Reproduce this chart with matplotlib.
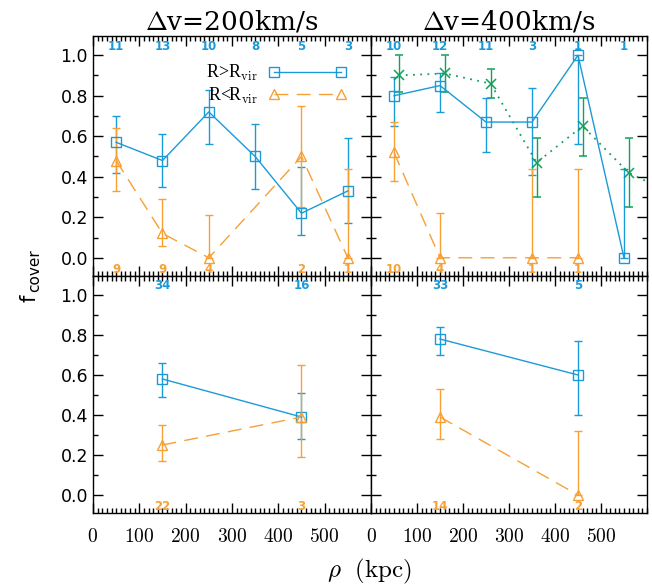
import numpy as np
import matplotlib
matplotlib.use('Agg')
import matplotlib.pyplot as plt
from matplotlib.ticker import MultipleLocator, FormatStrFormatter
from matplotlib.lines import Line2D

plt.rcParams['mathtext.fontset'] = 'cm'
plt.rcParams['axes.formatter.use_mathtext'] = True

# colours
BLUE = '#1b9ad8'
ORANGE = '#f7a035'
GREEN = '#12a05a'

# ---- data ----
x6 = [50, 150, 250, 350, 450, 550]
x2 = [150, 450]

# dv = 200 km/s, top
tl_blue_y = [0.57, 0.48, 0.72, 0.50, 0.22, 0.33]
tl_blue_lo = [0.42, 0.35, 0.56, 0.34, 0.11, 0.17]
tl_blue_hi = [0.70, 0.61, 0.83, 0.66, 0.45, 0.59]
tl_blue_n = [11, 13, 10, 8, 5, 3]
tl_or_x = [50, 150, 250, 450, 550]
tl_or_y = [0.48, 0.12, 0.0, 0.50, 0.0]
tl_or_lo = [0.33, 0.06, 0.0, 0.25, 0.0]
tl_or_hi = [0.64, 0.29, 0.21, 0.75, 0.44]
tl_or_n = [9, 9, 4, 2, 1]

# dv = 400 km/s, top
tr_blue_y = [0.80, 0.85, 0.67, 0.67, 1.0, 0.0]
tr_blue_lo = [0.65, 0.72, 0.52, 0.41, 0.56, 0.0]
tr_blue_hi = [0.89, 0.91, 0.79, 0.84, 1.0, 0.44]
tr_blue_n = [10, 12, 11, 3, 1, 1]
tr_gr_x = [60, 160, 260, 360, 460, 560, 660]
tr_gr_y = [0.90, 0.91, 0.86, 0.47, 0.65, 0.42, 0.31]
tr_gr_lo = [0.82, 0.82, 0.79, 0.30, 0.50, 0.25, 0.20]
tr_gr_hi = [1.0, 1.0, 0.93, 0.59, 0.79, 0.59, 0.45]
tr_or_x = [50, 150, 350, 450]
tr_or_y = [0.52, 0.0, 0.0, 0.0]
tr_or_lo = [0.38, 0.0, 0.0, 0.0]
tr_or_hi = [0.67, 0.22, 0.44, 0.44]
tr_or_n = [10, 4, 1, 1]

# dv = 200 km/s, bottom
bl_blue_y = [0.58, 0.39]
bl_blue_lo = [0.49, 0.28]
bl_blue_hi = [0.66, 0.51]
bl_blue_n = [34, 16]
bl_or_y = [0.25, 0.39]
bl_or_lo = [0.17, 0.19]
bl_or_hi = [0.35, 0.65]
bl_or_n = [22, 3]

# dv = 400 km/s, bottom
br_blue_y = [0.78, 0.60]
br_blue_lo = [0.70, 0.40]
br_blue_hi = [0.84, 0.77]
br_blue_n = [33, 5]
br_or_y = [0.39, 0.0]
br_or_lo = [0.28, 0.0]
br_or_hi = [0.53, 0.32]
br_or_n = [14, 2]

titles = [r'$\Delta$v=200km/s', r'$\Delta$v=400km/s']
DASH = (0, (10, 6))


def yerr(y, lo, hi):
    y = np.array(y); lo = np.array(lo); hi = np.array(hi)
    return [y - lo, hi - y]


def blue(ax, x, y, lo, hi):
    ax.errorbar(x, y, yerr=yerr(y, lo, hi), fmt='s-', color=BLUE, mfc='none',
                ms=6.5, lw=1.0, elinewidth=1.0, capsize=3)


def orange(ax, x, y, lo, hi):
    ax.errorbar(x, y, yerr=yerr(y, lo, hi), fmt='^', ls=DASH, color=ORANGE,
                mfc='none', ms=7.5, lw=1.0, elinewidth=1.0, capsize=3)


def counts(ax, x, n, yv, color):
    for xi, ni in zip(x, n):
        ax.text(xi, yv, str(ni), color=color, fontsize=8.5, fontweight='bold',
                ha='center', va='center', family='DejaVu Sans')


fig = plt.figure(figsize=(6.52, 5.84), dpi=100)
L, M, R = 0.1426, 0.569, 0.9923
B, C, T = 0.1216, 0.5274, 0.9384
axs = [[fig.add_axes([L, C, M - L, T - C]), fig.add_axes([M, C, R - M, T - C])],
       [fig.add_axes([L, B, M - L, C - B]), fig.add_axes([M, B, R - M, C - B])]]

for i in range(2):
    for j in range(2):
        ax = axs[i][j]
        ax.set_xlim(0, 600)
        ax.set_ylim(-0.09, 1.095)
        ax.xaxis.set_major_locator(plt.FixedLocator([0, 100, 200, 300, 400, 500]))
        ax.xaxis.set_minor_locator(MultipleLocator(10))
        ax.yaxis.set_major_locator(MultipleLocator(0.2))
        ax.yaxis.set_minor_locator(MultipleLocator(0.1))
        ax.yaxis.set_major_formatter(FormatStrFormatter('%.1f'))
        ax.tick_params(which='both', direction='in', top=True, right=True, width=1)
        ax.tick_params(which='major', length=7)
        ax.tick_params(which='minor', length=3.5)
        ax.tick_params(axis='x', pad=11)
        for s in ax.spines.values():
            s.set_linewidth(1)
        if i == 0:
            ax.set_xticklabels([])
            ax.set_title(titles[j], fontsize=19, family='DejaVu Serif', pad=5)
        else:
            for lab in ax.get_xticklabels():
                lab.set_family('cmr10')
                lab.set_fontsize(14)
        if j == 1:
            ax.set_yticklabels([])
        else:
            for lab in ax.get_yticklabels():
                lab.set_fontsize(12.5)

# top left
ax = axs[0][0]
blue(ax, x6, tl_blue_y, tl_blue_lo, tl_blue_hi)
orange(ax, tl_or_x, tl_or_y, tl_or_lo, tl_or_hi)
counts(ax, x6, tl_blue_n, 1.045, BLUE)
counts(ax, tl_or_x, tl_or_n, -0.058, ORANGE)
handles = [Line2D([], [], color=BLUE, marker='s', mfc='none', ms=6.5, lw=1.0),
           Line2D([], [], color=ORANGE, marker='^', mfc='none', ms=7.5, lw=1.0, ls=DASH)]
ax.legend(handles, [r'R>R$_{\rm vir}$', r'R<R$_{\rm vir}$'], loc='upper right',
          bbox_to_anchor=(0.97, 0.955), frameon=False, numpoints=2,
          markerfirst=False, handlelength=4.3, labelspacing=0.15,
          handletextpad=0.6, prop={'family': 'Liberation Serif', 'size': 13})

# top right
ax = axs[0][1]
ax.errorbar(tr_gr_x, tr_gr_y, yerr=yerr(tr_gr_y, tr_gr_lo, tr_gr_hi), fmt='x',
            ls=(0, (1, 3)), color=GREEN, ms=7, mew=1.1, lw=1.3,
            elinewidth=1.0, capsize=3)
blue(ax, x6, tr_blue_y, tr_blue_lo, tr_blue_hi)
orange(ax, tr_or_x, tr_or_y, tr_or_lo, tr_or_hi)
counts(ax, x6, tr_blue_n, 1.045, BLUE)
counts(ax, tr_or_x, tr_or_n, -0.058, ORANGE)

# bottom left
ax = axs[1][0]
blue(ax, x2, bl_blue_y, bl_blue_lo, bl_blue_hi)
orange(ax, x2, bl_or_y, bl_or_lo, bl_or_hi)
counts(ax, x2, bl_blue_n, 1.045, BLUE)
counts(ax, x2, bl_or_n, -0.058, ORANGE)

# bottom right
ax = axs[1][1]
blue(ax, x2, br_blue_y, br_blue_lo, br_blue_hi)
orange(ax, x2, br_or_y, br_or_lo, br_or_hi)
counts(ax, x2, br_blue_n, 1.045, BLUE)
counts(ax, x2, br_or_n, -0.058, ORANGE)

fig.text(0.567, 0.012, r'$\rho\ \ \mathrm{(kpc)}$', ha='center', fontsize=18)
# y label: "f" with a sans subscript "cover"
fig.text(0.046, 0.49, 'f', rotation=90, va='center', ha='center',
         fontsize=15, family='DejaVu Sans')
fig.text(0.053, 0.536, 'cover', rotation=90, va='center', ha='center',
         fontsize=11, family='DejaVu Sans')

fig.savefig('out.png', dpi=100)
